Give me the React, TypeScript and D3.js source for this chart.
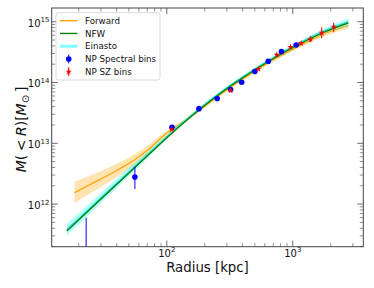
import * as d3 from "d3";

// curves: radius [kpc] and enclosed mass [Msun]
const nfwR = [16.1, 35.5, 73.7, 116, 184, 290, 458, 724, 1143, 1804, 2762];
const nfwM = [3.61e11, 1.67e12, 6.85e12, 1.62e13, 3.67e13, 7.53e13, 1.43e14, 2.58e14, 4.34e14, 6.83e14, 9.6e14];

const einR = nfwR;
const einM = [3.8e11, 1.75e12, 7.1e12, 1.68e13, 3.8e13, 7.8e13, 1.48e14, 2.66e14, 4.5e14, 7.15e14, 1.0e15];
const einLo = [3.0e11, 1.45e12, 6.3e12, 1.57e13, 3.6e13, 7.4e13, 1.41e14, 2.52e14, 4.2e14, 6.5e14, 8.6e14];
const einHi = [4.7e11, 2.1e12, 8.0e12, 1.8e13, 4.0e13, 8.2e13, 1.56e14, 2.82e14, 4.8e14, 7.8e14, 1.15e15];

const fwdR = [18.5, 24.6, 32.4, 42.6, 56.0, 73.7, 96.9, 127.5, 183.8, 290, 458, 724, 1143, 1804, 2762];
const fwdM = [1.54e12, 2.1e12, 2.82e12, 3.85e12, 5.42e12, 8.37e12, 1.395e13, 2.08e13, 3.56e13, 7.24e13, 1.365e14, 2.455e14, 4.09e14, 6.4e14, 8.66e14];
const fwdLo = [1.035e12, 1.49e12, 2.12e12, 3.01e12, 4.4e12, 7.19e12, 1.245e13, 1.93e13, 3.36e13, 6.84e13, 1.28e14, 2.28e14, 3.76e14, 5.8e14, 7.8e14];
const fwdHi = [2.33e12, 2.95e12, 3.75e12, 4.92e12, 6.67e12, 9.75e12, 1.56e13, 2.24e13, 3.77e13, 7.67e13, 1.45e14, 2.64e14, 4.45e14, 7.05e14, 9.6e14];

// non-parametric points
const specR = [22.9, 55.8, 110, 180, 251, 321, 393, 500, 639, 814, 1065];
const specM = [1.0e11, 2.79e12, 1.83e13, 3.71e13, 5.46e13, 7.67e13, 1.01e14, 1.51e14, 2.23e14, 3.24e14, 4.14e14];
const specLo = [1.0e10, 1.77e12, 1.75e13, 3.6e13, 5.3e13, 7.4e13, 9.8e13, 1.46e14, 2.16e14, 3.14e14, 4.0e14];
const specHi = [5.97e11, 4.12e12, 1.9e13, 3.82e13, 5.6e13, 7.9e13, 1.04e14, 1.56e14, 2.3e14, 3.34e14, 4.28e14];

const szR = [109.6, 321, 534, 747, 959, 1165, 1380, 1698, 2113];
const szM = [1.69e13, 7.4e13, 1.67e14, 2.86e14, 3.84e14, 4.42e14, 5.14e14, 6.59e14, 8.28e14];
const szLo = [1.6e13, 7.0e13, 1.6e14, 2.75e14, 3.7e14, 4.25e14, 4.6e14, 5.33e14, 6.7e14];
const szHi = [1.78e13, 7.8e13, 1.75e14, 2.97e14, 4.0e14, 4.6e14, 5.8e14, 8.1e14, 9.6e14];

const xMajor = [1e2, 1e3];
const xMajorLabels = ["2", "3"];
const yMajor = [1e12, 1e13, 1e14, 1e15];
const yMajorLabels = ["12", "13", "14", "15"];

const legendItems = ["Forward", "NFW", "Einasto", "NP Spectral bins", "NP SZ bins"];

const W = 374;
const H = 288;
const left = 51.7;
const right = 363.3;
const top = 8;
const bottom = 246.7;
const font = "DejaVu Sans, sans-serif";

export default function App() {
  const x = d3.scaleLog().domain([12.2, 3630]).range([left, right]);
  const y = d3.scaleLog().domain([1.99e11, 1.68e15]).range([bottom, top]);

  const minorX: number[] = [];
  for (const d of [10, 100, 1000]) for (let k = 2; k <= 9; k++) {
    const v = d * k;
    if (v > 12.2 && v < 3630) minorX.push(v);
  }
  const minorY: number[] = [];
  for (const d of [1e11, 1e12, 1e13, 1e14, 1e15]) for (let k = 2; k <= 9; k++) {
    const v = d * k;
    if (v > 1.99e11 && v < 1.68e15) minorY.push(v);
  }

  const line = (rs: number[], ms: number[]) =>
    d3.line<number>().x((_, i) => x(rs[i])).y((m) => y(m)).curve(d3.curveMonotoneX)(ms) || "";
  const area = (rs: number[], lo: number[], hi: number[]) =>
    d3.area<number>().x((_, i) => x(rs[i])).y0((_, i) => y(lo[i])).y1((_, i) => y(hi[i])).curve(d3.curveMonotoneX)(lo) || "";

  const star = d3.symbol().type(d3.symbolStar).size(13)() || "";
  const tick = "#444";

  return (
    <svg width={W} height={H} style={{ position: "absolute", left: 0, top: 0 }} fontFamily={font}>
      <defs>
        <clipPath id="plot">
          <rect x={left} y={top} width={right - left} height={bottom - top} />
        </clipPath>
      </defs>
      <rect width={W} height={H} fill="white" />
      <g clipPath="url(#plot)">
        <path d={area(fwdR, fwdLo, fwdHi)} fill="orange" opacity={0.3} />
        <path d={line(fwdR, fwdM)} fill="none" stroke="orange" strokeWidth={1.3} />
        <path d={area(einR, einLo, einHi)} fill="cyan" opacity={0.3} />
        <path d={line(einR, einM)} fill="none" stroke="#30e0d8" strokeWidth={1.5} />
        <path d={line(nfwR, nfwM)} fill="none" stroke="green" strokeWidth={1.3} />
        {specR.map((r, i) => (
          <g key={"s" + i}>
            <line x1={x(r)} x2={x(r)} y1={y(specLo[i])} y2={y(specHi[i])} stroke="blue" strokeWidth={1} />
            <circle cx={x(r)} cy={y(specM[i])} r={2.8} fill="blue" />
          </g>
        ))}
        {szR.map((r, i) => (
          <g key={"z" + i}>
            <line x1={x(r)} x2={x(r)} y1={y(szLo[i])} y2={y(szHi[i])} stroke="red" strokeWidth={1} />
            <path d={star} transform={`translate(${x(r)},${y(szM[i])})`} fill="red" />
          </g>
        ))}
      </g>

      {/* frame and ticks */}
      <rect x={left} y={top} width={right - left} height={bottom - top} fill="none" stroke={tick} strokeWidth={1} />
      {xMajor.map((v) => (
        <g key={"xM" + v} stroke={tick} strokeWidth={0.8}>
          <line x1={x(v)} x2={x(v)} y1={bottom} y2={bottom - 6} />
          <line x1={x(v)} x2={x(v)} y1={top} y2={top + 6} />
        </g>
      ))}
      {minorX.map((v) => (
        <g key={"xm" + v} stroke={tick} strokeWidth={0.6}>
          <line x1={x(v)} x2={x(v)} y1={bottom} y2={bottom - 3.5} />
          <line x1={x(v)} x2={x(v)} y1={top} y2={top + 3.5} />
        </g>
      ))}
      {yMajor.map((v) => (
        <g key={"yM" + v} stroke={tick} strokeWidth={0.8}>
          <line x1={left} x2={left + 6} y1={y(v)} y2={y(v)} />
          <line x1={right} x2={right - 6} y1={y(v)} y2={y(v)} />
        </g>
      ))}
      {minorY.map((v) => (
        <g key={"ym" + v} stroke={tick} strokeWidth={0.6}>
          <line x1={left} x2={left + 3.5} y1={y(v)} y2={y(v)} />
          <line x1={right} x2={right - 3.5} y1={y(v)} y2={y(v)} />
        </g>
      ))}
      {xMajor.map((v, i) => (
        <text key={"xl" + v} x={x(v)} y={256.5} fontSize={10} textAnchor="middle" fill="#111">
          10<tspan dy={-4.5} fontSize={7}>{xMajorLabels[i]}</tspan>
        </text>
      ))}
      {yMajor.map((v, i) => (
        <text key={"yl" + v} x={49.5} y={y(v) + 5} fontSize={10} textAnchor="end" fill="#111">
          10<tspan dy={-4.5} fontSize={7}>{yMajorLabels[i]}</tspan>
        </text>
      ))}

      <text x={(left + right) / 2} y={271.5} fontSize={13.3} textAnchor="middle" fill="#111">
        Radius [kpc]
      </text>
      <text transform={`translate(25.5,129.5) rotate(-90)`} fontSize={14} textAnchor="middle" fill="#111">
        <tspan fontStyle="italic">M</tspan>(
        {"\u2005<\u2005"}
        <tspan fontStyle="italic">R</tspan>)[<tspan fontStyle="italic">M</tspan>
        <tspan dy={3} fontSize={10}>{"\u2299"}</tspan>
        <tspan dy={-3}>{"\u2009]"}</tspan>
      </text>

      {/* legend */}
      <rect x={56} y={12.7} width={104} height={67.3} rx={2.5} fill="white" fillOpacity={0.8} stroke="#cfcfcf" strokeWidth={0.8} />
      {legendItems.map((name, i) => {
        const cy = 20.7 + i * 12.75;
        return (
          <g key={name}>
            {i === 0 && <line x1={60} x2={77.3} y1={cy} y2={cy} stroke="orange" strokeWidth={1.4} />}
            {i === 1 && <line x1={60} x2={77.3} y1={cy} y2={cy} stroke="green" strokeWidth={1.4} />}
            {i === 2 && <line x1={60} x2={77.3} y1={cy} y2={cy} stroke="cyan" strokeOpacity={0.5} strokeWidth={3} />}
            {i === 3 && (
              <g>
                <line x1={68.7} x2={68.7} y1={cy - 4.5} y2={cy + 4.5} stroke="blue" strokeWidth={1} />
                <circle cx={68.7} cy={cy} r={2.8} fill="blue" />
              </g>
            )}
            {i === 4 && (
              <g>
                <line x1={68.7} x2={68.7} y1={cy - 4.5} y2={cy + 4.5} stroke="red" strokeWidth={1} />
                <path d={star} transform={`translate(68.7,${cy})`} fill="red" />
              </g>
            )}
            <text x={85} y={cy + 3.1} fontSize={8.7} fill="#111">{name}</text>
          </g>
        );
      })}
    </svg>
  );
}
